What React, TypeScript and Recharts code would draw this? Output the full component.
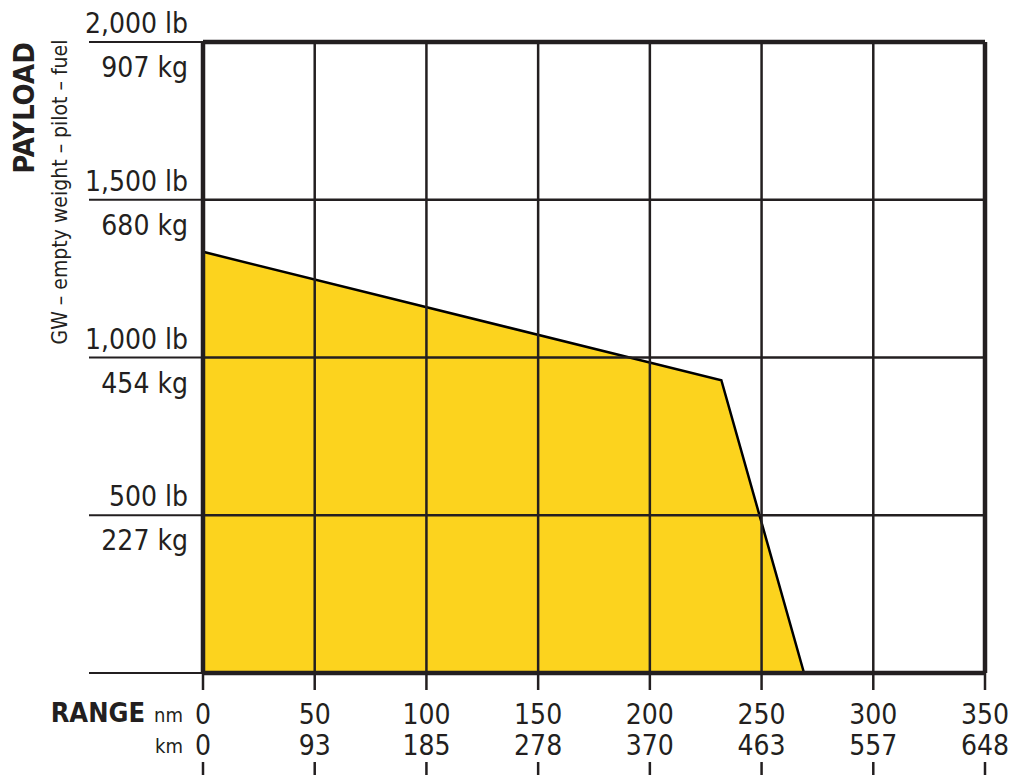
import { AreaChart, Area, XAxis, YAxis, ReferenceLine } from "recharts";

// payload envelope (range nm vs payload lb)
const rangeNm = [0, 232, 269];
const payloadLb = [1335, 928, 0];

const nmTicks = [0, 50, 100, 150, 200, 250, 300, 350];
const kmLabels = ["0", "93", "185", "278", "370", "463", "557", "648"];
const lbTicks = [0, 500, 1000, 1500, 2000];
const lbLabels = ["", "500 lb", "1,000 lb", "1,500 lb", "2,000 lb"];
const kgLabels = ["", "227 kg", "454 kg", "680 kg", "907 kg"];

const data = rangeNm.map((nm, i) => ({ nm, lb: payloadLb[i] }));

const INK = "#231f20";
const YELLOW = "#fcd31e";
const FONT = "'DejaVu Sans Condensed', 'DejaVu Sans', sans-serif";

const YTick = (props: any) => {
  const { x, y, index } = props;
  return (
    <g>
      <line x1={x - 114} x2={x} y1={y} y2={y} stroke={INK} strokeWidth={2.2} />
      {lbLabels[index] && (
        <text x={x - 15} y={y - 9} textAnchor="end" fontFamily={FONT} fontSize={28} fill={INK}>
          {lbLabels[index]}
        </text>
      )}
      {kgLabels[index] && (
        <text x={x - 15} y={y + 35} textAnchor="end" fontFamily={FONT} fontSize={28} fill={INK}>
          {kgLabels[index]}
        </text>
      )}
    </g>
  );
};

const XTick = (props: any) => {
  const { x, y, index, payload } = props;
  return (
    <g>
      <line x1={x} x2={x} y1={y} y2={y + 17} stroke={INK} strokeWidth={2.5} />
      <line x1={x} x2={x} y1={y + 89} y2={y + 102} stroke={INK} strokeWidth={2.5} />
      <text x={x} y={y + 51} textAnchor="middle" fontFamily={FONT} fontSize={28} fill={INK}>
        {payload.value}
      </text>
      <text x={x} y={y + 82} textAnchor="middle" fontFamily={FONT} fontSize={28} fill={INK}>
        {kmLabels[index]}
      </text>
      {index === 0 && (
        <g fontFamily={FONT} fill={INK}>
          <text x={x - 58} y={y + 49} textAnchor="end" fontSize={27} fontWeight="bold">
            RANGE
          </text>
          <text x={x - 20} y={y + 49} textAnchor="end" fontSize={20}>
            nm
          </text>
          <text x={x - 20} y={y + 80} textAnchor="end" fontSize={20}>
            km
          </text>
        </g>
      )}
    </g>
  );
};

export default function App() {
  return (
    <div style={{ position: "absolute", left: 0, top: 0, width: 1011, height: 775, background: "#fff" }}>
      <AreaChart width={1011} height={775} data={data} margin={{ top: 42, right: 26, bottom: 2, left: 3 }}>
        <XAxis
          dataKey="nm"
          type="number"
          domain={[0, 350]}
          ticks={nmTicks}
          height={100}
          axisLine={false}
          tickLine={false}
          tickSize={0}
          tickMargin={0}
          tick={<XTick />}
          interval={0}
        />
        <YAxis
          type="number"
          domain={[0, 2000]}
          ticks={lbTicks}
          width={200}
          axisLine={false}
          tickLine={false}
          tickSize={0}
          tickMargin={0}
          tick={<YTick />}
          interval={0}
        />
        <Area
          type="linear"
          dataKey="lb"
          stroke="#000"
          strokeWidth={2.5}
          fill={YELLOW}
          fillOpacity={1}
          isAnimationActive={false}
        />
        {nmTicks.slice(1, -1).map((v) => (
          <ReferenceLine key={`v${v}`} x={v} stroke={INK} strokeWidth={2.5} />
        ))}
        {lbTicks.slice(1, -1).map((v) => (
          <ReferenceLine key={`h${v}`} y={v} stroke={INK} strokeWidth={2.5} />
        ))}
        <ReferenceLine x={0} stroke={INK} strokeWidth={4.5} />
        <ReferenceLine x={350} stroke={INK} strokeWidth={4.5} />
        <ReferenceLine y={0} stroke={INK} strokeWidth={4.5} />
        <ReferenceLine y={2000} stroke={INK} strokeWidth={4.5} />
      </AreaChart>
      <svg
        width={1011}
        height={775}
        style={{ position: "absolute", left: 0, top: 0, pointerEvents: "none" }}
      >
        <text
          transform="translate(34,108) rotate(-90)"
          textAnchor="middle"
          fontFamily={FONT}
          fontWeight="bold"
          fontSize={29}
          fill={INK}
        >
          PAYLOAD
        </text>
        <text
          transform="translate(67,192) rotate(-90)"
          textAnchor="middle"
          fontFamily={FONT}
          fontSize={21}
          fill={INK}
        >
          GW – empty weight – pilot – fuel
        </text>
      </svg>
    </div>
  );
}
